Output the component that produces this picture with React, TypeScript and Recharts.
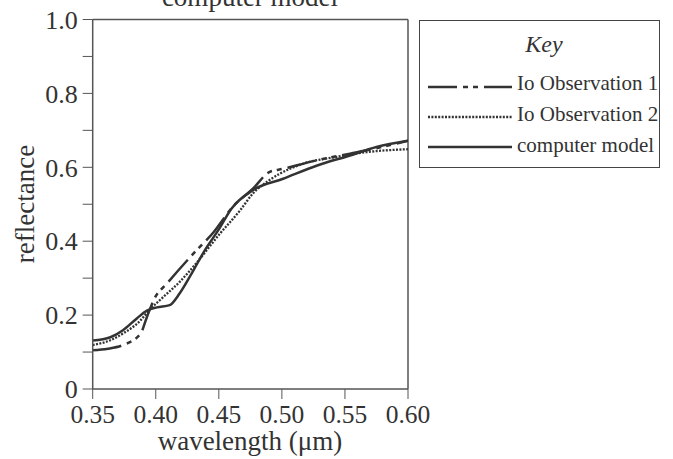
import React from 'react';
import { LineChart, Line, XAxis, YAxis, ReferenceLine, Legend } from 'recharts';

const seriesNames = ['Io Observation 1', 'Io Observation 2', 'computer model'];

const obs1Wavelength = [0.35, 0.362, 0.374, 0.388, 0.393, 0.399, 0.409, 0.43, 0.446, 0.461, 0.477, 0.49, 0.501, 0.528, 0.554, 0.57, 0.6];
const obs1Reflectance = [0.105, 0.109, 0.119, 0.15, 0.195, 0.245, 0.286, 0.367, 0.425, 0.493, 0.542, 0.587, 0.596, 0.619, 0.637, 0.648, 0.672];

const obs2Wavelength = [0.35, 0.364, 0.374, 0.388, 0.395, 0.406, 0.419, 0.432, 0.451, 0.467, 0.477, 0.49, 0.4985, 0.517, 0.543, 0.567, 0.6];
const obs2Reflectance = [0.119, 0.132, 0.15, 0.186, 0.214, 0.249, 0.29, 0.34, 0.421, 0.484, 0.529, 0.565, 0.583, 0.61, 0.628, 0.641, 0.649];

const modelWavelength = [0.35, 0.364, 0.374, 0.385, 0.393, 0.401, 0.411, 0.419, 0.43, 0.439, 0.45, 0.46, 0.477, 0.501, 0.528, 0.554, 0.575, 0.6];
const modelReflectance = [0.131, 0.14, 0.159, 0.191, 0.212, 0.221, 0.227, 0.259, 0.322, 0.376, 0.432, 0.488, 0.538, 0.569, 0.605, 0.632, 0.655, 0.672];

const xTicks = [0.35, 0.4, 0.45, 0.5, 0.55, 0.6];
const yTicks = [0, 0.1, 0.2, 0.3, 0.4, 0.5, 0.6, 0.7, 0.8, 0.9, 1.0];

const zip = (xs: number[], ys: number[]) => xs.map((x, i) => ({ x, y: ys[i] }));
const obs1Data = zip(obs1Wavelength, obs1Reflectance);
const obs2Data = zip(obs2Wavelength, obs2Reflectance);
const modelData = zip(modelWavelength, modelReflectance);

const FONT = '"Liberation Serif", "Times New Roman", serif';
const INK = '#333';
const AXIS = '#555';
const DASHDOT = '29 6 5 5 5 6';
const DOTTED = '2 1.4';

const styles = [
  { dash: DASHDOT, width: 2.5 },
  { dash: DOTTED, width: 2.3 },
  { dash: undefined as string | undefined, width: 2.5 },
];

const KeyBox = () => (
  <svg width={242} height={149} style={{ display: 'block', fontFamily: FONT }}>
    <rect x={0.5} y={0.5} width={240} height={147} fill="#fff" stroke="#444" strokeWidth={1} />
    <text x={125} y={32} textAnchor="middle" fontStyle="italic" fontSize={24} fill={INK}>Key</text>
    {seriesNames.map((name, i) => (
      <g key={name}>
        <line x1={9} x2={93} y1={67 + i * 30} y2={67 + i * 30} stroke={INK} strokeWidth={styles[i].width} strokeDasharray={styles[i].dash} />
        <text x={98} y={70 + i * 31} fontSize={21} fill={INK}>{name}</text>
      </g>
    ))}
  </svg>
);

const yFmt = (v: number) => {
  const t = Math.round(v * 10);
  if (t % 2 !== 0) return '';
  return t === 0 ? '0' : v.toFixed(1);
};

export default function App() {
  return (
    <div style={{ position: 'absolute', left: 0, top: 0 }}>
      <LineChart width={673} height={459} margin={{ top: 19.5, right: 265, left: 0, bottom: 40 }}>
        <XAxis
          dataKey="x"
          type="number"
          domain={[0.35, 0.6]}
          ticks={xTicks}
          allowDataOverflow
          tickFormatter={(v: number) => v.toFixed(2)}
          tickSize={10}
          tickMargin={6}
          height={30}
          stroke={AXIS}
          tick={{ fill: INK, fontSize: 25.5, fontFamily: FONT }}
          tickLine={{ stroke: AXIS }}
          axisLine={{ stroke: AXIS, strokeWidth: 1.5 }}
        />
        <YAxis
          dataKey="y"
          type="number"
          domain={[0, 1]}
          ticks={yTicks}
          interval={0}
          tickFormatter={yFmt}
          tickSize={10}
          tickMargin={5}
          width={92.7}
          stroke={AXIS}
          tick={{ fill: INK, fontSize: 26, fontFamily: FONT }}
          tickLine={{ stroke: AXIS }}
          axisLine={{ stroke: AXIS, strokeWidth: 1.5 }}
        />
        <ReferenceLine y={1} stroke={AXIS} strokeWidth={1.5} />
        <ReferenceLine x={0.6} stroke={AXIS} strokeWidth={1.5} />
        <Line data={obs1Data} dataKey="y" name={seriesNames[0]} type="monotone" stroke={INK} strokeWidth={2.5} strokeDasharray={DASHDOT} dot={false} isAnimationActive={false} />
        <Line data={obs2Data} dataKey="y" name={seriesNames[1]} type="monotone" stroke={INK} strokeWidth={2.3} strokeDasharray={DOTTED} dot={false} isAnimationActive={false} />
        <Line data={modelData} dataKey="y" name={seriesNames[2]} type="monotone" stroke={INK} strokeWidth={2.5} dot={false} isAnimationActive={false} />
        <Legend
          layout="horizontal"
          verticalAlign="middle"
          align="center"
          content={() => <KeyBox />}
          wrapperStyle={{ left: 419, top: 20, width: 242, height: 149 }}
        />
        <text x={250} y={6} textAnchor="middle" fontSize={27} fontFamily={FONT} fill={INK}>computer model</text>
        <text x={25} y={204} transform="rotate(-90 25 204)" textAnchor="middle" dominantBaseline="central" fontSize={27} fontFamily={FONT} fill={INK}>reflectance</text>
        <text x={250} y={450} textAnchor="middle" fontSize={27} fontFamily={FONT} fill={INK}>wavelength (μm)</text>
      </LineChart>
    </div>
  );
}
